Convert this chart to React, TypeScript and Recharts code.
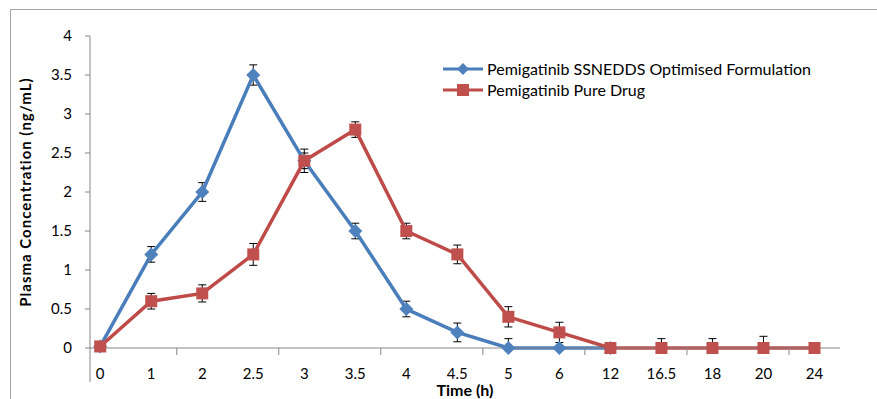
import React from 'react';
import { LineChart, Line, XAxis, YAxis, ErrorBar, Legend } from 'recharts';

const timePoints = ['0', '1', '2', '2.5', '3', '3.5', '4', '4.5', '5', '6', '12', '16.5', '18', '20', '24'];
const ssneddsConc = [0.02, 1.2, 2.0, 3.5, 2.4, 1.5, 0.5, 0.2, 0, 0, 0, null, null, null, null];
const ssneddsSd = [0, 0.1, 0.12, 0.13, 0.1, 0.1, 0.1, 0.12, 0.12, 0, 0, 0, 0, 0, 0];
const pureConc = [0.02, 0.6, 0.7, 1.2, 2.4, 2.8, 1.5, 1.2, 0.4, 0.2, 0, 0, 0, 0, 0];
const pureSd = [0, 0.1, 0.11, 0.14, 0.15, 0.1, 0.1, 0.12, 0.13, 0.13, 0, 0.12, 0.12, 0.15, 0];
const yTicks = [0, 0.5, 1, 1.5, 2, 2.5, 3, 3.5, 4];
// Excel puts a tick mark between every second pair of categories
const minorTicks = [1.5, 3.5, 5.5, 7.5, 9.5, 11.5, 13.5];
const X_MIN = -0.2;
const X_MAX = 14.5;

const FONT = 'Lato, "Open Sans", sans-serif';
const BLUE = '#4F81BD';
const BLUE_LINE = '#4A7EBB';
const RED = '#C0504D';
const RED_LINE = '#BE4B48';
const AXIS = '#868686';
const TICK_MARGIN = 20;

const errPair = (v: number | null, sd: number) =>
  v == null || !sd ? null : [Math.min(sd, v), sd];

const chartData = timePoints.map((t, i) => ({
  idx: i,
  time: t,
  ssnedds: ssneddsConc[i],
  ssneddsErr: errPair(ssneddsConc[i], ssneddsSd[i]),
  pure: pureConc[i],
  pureErr: errPair(pureConc[i], pureSd[i]),
}));

const allXTicks = [X_MIN, ...timePoints.map((_, i) => i), ...minorTicks].sort((a, b) => a - b);

const Diamond = (props: any) => {
  const { cx, cy, index } = props;
  if (cx == null || cy == null) return <g key={`d${index}`} />;
  const r = 7;
  return (
    <polygon
      key={`d${index}`}
      points={`${cx},${cy - r} ${cx + r},${cy} ${cx},${cy + r} ${cx - r},${cy}`}
      fill={BLUE}
    />
  );
};

const Square = (props: any) => {
  const { cx, cy, index } = props;
  if (cx == null || cy == null) return <g key={`s${index}`} />;
  const h = 6;
  return <rect key={`s${index}`} x={cx - h} y={cy - h} width={h * 2} height={h * 2} fill={RED} />;
};

// category labels at integers, small tick marks at the half positions, stub at the left end
const TimeTick = (props: any) => {
  const { x, y, payload } = props;
  const v = payload.value;
  const axisY = y - TICK_MARGIN;
  if (v === X_MIN) {
    return <line x1={x} y1={axisY} x2={x} y2={axisY + 34} stroke={AXIS} />;
  }
  if (!Number.isInteger(v)) {
    return <line x1={x} y1={axisY} x2={x} y2={axisY + 7} stroke={AXIS} />;
  }
  return (
    <text x={x} y={y} dy="0.71em" textAnchor="middle" fontFamily={FONT} fontSize={15} fill="#000">
      {timePoints[v]}
    </text>
  );
};

const legendItems = [
  { name: 'Pemigatinib SSNEDDS Optimised Formulation', color: BLUE_LINE, marker: 'diamond' },
  { name: 'Pemigatinib Pure Drug', color: RED_LINE, marker: 'square' },
];

const renderLegend = () => (
  <div style={{ fontFamily: FONT, fontSize: 16, color: '#000' }}>
    {legendItems.map((item) => (
      <div key={item.name} style={{ display: 'flex', alignItems: 'center', height: 21 }}>
        <svg width={40} height={14}>
          <line x1={0} y1={7} x2={40} y2={7} stroke={item.color} strokeWidth={3} />
          {item.marker === 'diamond' ? (
            <polygon points="20,1 26,7 20,13 14,7" fill={BLUE} />
          ) : (
            <rect x={14} y={1} width={12} height={12} fill={RED} />
          )}
        </svg>
        <span style={{ marginLeft: 4 }}>{item.name}</span>
      </div>
    ))}
  </div>
);

export default function App() {
  return (
    <div style={{ position: 'absolute', left: 0, top: 0, width: 877, height: 399, background: '#fff' }}>
      <div
        style={{
          position: 'absolute',
          left: 10,
          top: 9,
          right: 0,
          bottom: 0,
          borderTop: '1px solid #a6a6a6',
          borderLeft: '1px solid #a6a6a6',
        }}
      />
      <LineChart
        width={877}
        height={399}
        data={chartData}
        margin={{ top: 36, right: 37, bottom: 0, left: 0 }}
        style={{ position: 'absolute', left: 0, top: 0 }}
      >
        <XAxis
          type="number"
          dataKey="idx"
          domain={[X_MIN, X_MAX]}
          ticks={allXTicks}
          interval={0}
          height={51}
          axisLine={{ stroke: AXIS }}
          tickLine={false}
          tickSize={0}
          tickMargin={TICK_MARGIN}
          tick={TimeTick}
          label={{
            value: 'Time (h)',
            position: 'insideBottom',
            offset: 3,
            style: { fontFamily: FONT, fontSize: 16, fontWeight: 700, fill: '#000' },
          }}
        />
        <YAxis
          width={90}
          domain={[0, 4]}
          ticks={yTicks}
          interval={0}
          axisLine={{ stroke: AXIS }}
          tickLine={{ stroke: AXIS }}
          tickSize={5}
          tickMargin={13}
          tick={{ fontFamily: FONT, fontSize: 15, fill: '#000' }}
          label={{
            value: 'Plasma Concentration (ng/mL)',
            angle: -90,
            position: 'insideLeft',
            offset: 26,
            style: {
              textAnchor: 'middle',
              fontFamily: FONT,
              fontSize: 15,
              fontWeight: 700,
              letterSpacing: 1,
              fill: '#000',
            },
          }}
        />
        <Legend
          layout="vertical"
          align="center"
          verticalAlign="middle"
          content={renderLegend}
          wrapperStyle={{ top: 58, left: 443, width: 420 }}
        />
        <Line
          dataKey="ssnedds"
          name="Pemigatinib SSNEDDS Optimised Formulation"
          stroke={BLUE_LINE}
          strokeWidth={3.5}
          dot={Diamond}
          activeDot={false}
          isAnimationActive={false}
        >
          <ErrorBar dataKey="ssneddsErr" width={4} stroke="#000" strokeWidth={1} />
        </Line>
        <Line
          dataKey="pure"
          name="Pemigatinib Pure Drug"
          stroke={RED_LINE}
          strokeWidth={3.5}
          dot={Square}
          activeDot={false}
          isAnimationActive={false}
        >
          <ErrorBar dataKey="pureErr" width={4} stroke="#000" strokeWidth={1} />
        </Line>
      </LineChart>
    </div>
  );
}
